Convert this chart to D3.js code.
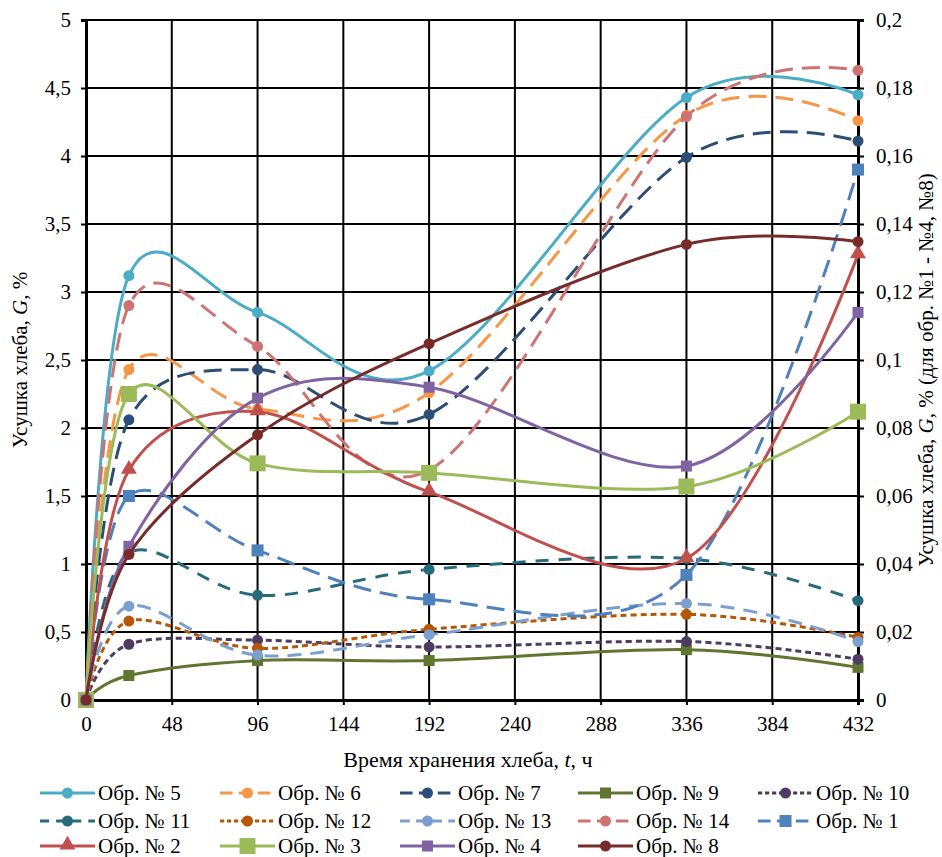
<!DOCTYPE html>
<html>
<head>
<meta charset="utf-8">
<script src="https://cdn.jsdelivr.net/npm/d3@7"></script>
<style>
  body { margin: 0; background: #fff; }
  svg text { font-family: "Times New Roman", "Liberation Serif", "DejaVu Serif", "Noto Serif", Times, serif; fill: #000; }
</style>
</head>
<body>
<div id="chart"></div>
<script>
// Data: storage time (h) and bread shrinkage per sample
var hours = [0, 24, 96, 192, 336, 432];
var xTicks = [0, 48, 96, 144, 192, 240, 288, 336, 384, 432];
var leftTicks = [0, 0.5, 1, 1.5, 2, 2.5, 3, 3.5, 4, 4.5, 5];
var rightTicks = [0, 0.02, 0.04, 0.06, 0.08, 0.1, 0.12, 0.14, 0.16, 0.18, 0.2];

// left axis samples (%)
var obr5 = [0, 3.12, 2.85, 2.42, 4.43, 4.45];
var obr6 = [0, 2.43, 2.14, 2.26, 4.30, 4.26];
var obr7 = [0, 2.06, 2.43, 2.10, 3.99, 4.11];
var obr9 = [0, 0.18, 0.29, 0.29, 0.37, 0.24];
var obr10 = [0, 0.41, 0.44, 0.39, 0.43, 0.30];
var obr11 = [0, 1.08, 0.77, 0.96, 1.04, 0.73];
var obr12 = [0, 0.58, 0.38, 0.52, 0.63, 0.46];
var obr13 = [0, 0.69, 0.33, 0.48, 0.71, 0.43];
var obr14 = [0, 2.90, 2.60, 1.69, 4.29, 4.63];
// right axis samples (%)
var obr1 = [0, 0.060, 0.044, 0.0296, 0.0368, 0.156];
var obr2 = [0, 0.0676, 0.0848, 0.0612, 0.0416, 0.131];
var obr3 = [0, 0.090, 0.0696, 0.0668, 0.0628, 0.0848];
var obr4 = [0, 0.0452, 0.0888, 0.092, 0.0688, 0.114];
var obr8 = [0, 0.0428, 0.078, 0.1048, 0.134, 0.1348];

var series = [
  {name: "Обр. № 5", values: obr5, axis: "L", color: "#4BACC6", dash: null, marker: "circle"},
  {name: "Обр. № 6", values: obr6, axis: "L", color: "#F79646", dash: "18,9", marker: "circle"},
  {name: "Обр. № 7", values: obr7, axis: "L", color: "#2C4D75", dash: "18,9", marker: "circle"},
  {name: "Обр. № 9", values: obr9, axis: "L", color: "#5F7530", dash: null, marker: "square", size: 11},
  {name: "Обр. № 10", values: obr10, axis: "L", color: "#4D3B62", dash: "6,4", marker: "circle"},
  {name: "Обр. № 11", values: obr11, axis: "L", color: "#276A7C", dash: "13,10", marker: "circle"},
  {name: "Обр. № 12", values: obr12, axis: "L", color: "#B65708", dash: "6,4", marker: "circle"},
  {name: "Обр. № 13", values: obr13, axis: "L", color: "#7BA0CD", dash: "14,9", marker: "circle"},
  {name: "Обр. № 14", values: obr14, axis: "L", color: "#CD7371", dash: "18,9", marker: "circle"},
  {name: "Обр. № 1", values: obr1, axis: "R", color: "#4F81BD", dash: "18,9", marker: "square", size: 12},
  {name: "Обр. № 2", values: obr2, axis: "R", color: "#C0504D", dash: null, marker: "triangle"},
  {name: "Обр. № 3", values: obr3, axis: "R", color: "#9BBB59", dash: null, marker: "square", size: 16},
  {name: "Обр. № 4", values: obr4, axis: "R", color: "#8064A2", dash: null, marker: "square", size: 11},
  {name: "Обр. № 8", values: obr8, axis: "R", color: "#772C2A", dash: null, marker: "circle"}
];

var svgWidth = 942, svgHeight = 857;
var margin = {top: 20, right: 84, bottom: 157, left: 86};
var width = svgWidth - margin.left - margin.right;
var height = svgHeight - margin.top - margin.bottom;

var svg = d3.select("#chart").append("svg")
  .attr("width", svgWidth)
  .attr("height", svgHeight);

var chartGroup = svg.append("g")
  .attr("transform", `translate(${margin.left}, ${margin.top})`);

var xScale = d3.scaleLinear().domain([0, 432]).range([0, width]);
var yLeft = d3.scaleLinear().domain([0, 5]).range([height, 0]);
var yRight = d3.scaleLinear().domain([0, 0.2]).range([height, 0]);

var fmt = function(d) { return String(d).replace(".", ","); };

// grid
chartGroup.append("g").selectAll("line")
  .data(leftTicks.slice(1))
  .enter().append("line")
  .attr("x1", 0).attr("x2", width)
  .attr("y1", d => yLeft(d)).attr("y2", d => yLeft(d))
  .attr("stroke", "#000").attr("stroke-width", 2);

chartGroup.append("g").selectAll("line")
  .data(xTicks.slice(1))
  .enter().append("line")
  .attr("x1", d => xScale(d)).attr("x2", d => xScale(d))
  .attr("y1", 0).attr("y2", height)
  .attr("stroke", "#000").attr("stroke-width", 2);

// axes
var bottomAxis = d3.axisBottom(xScale).tickValues(xTicks).tickSize(5).tickPadding(8);
var leftAxis = d3.axisLeft(yLeft).tickValues(leftTicks).tickFormat(fmt).tickSize(5).tickPadding(10);
var rightAxis = d3.axisRight(yRight).tickValues(rightTicks).tickFormat(fmt).tickSize(6).tickPadding(12);

var gx = chartGroup.append("g").attr("transform", `translate(0, ${height})`).call(bottomAxis);
var gl = chartGroup.append("g").call(leftAxis);
var gr = chartGroup.append("g").attr("transform", `translate(${width}, 0)`).call(rightAxis);

[gx, gl, gr].forEach(function(g) {
  g.attr("font-family", null).attr("font-size", 21);
  g.selectAll("path").attr("stroke", "#000").attr("stroke-width", 3);
  g.selectAll("line").attr("stroke", "#000").attr("stroke-width", 2);
  g.selectAll("text").attr("fill", "#000");
});
gx.selectAll("text").attr("dy", "0.85em");

// axis titles
chartGroup.append("text")
  .attr("x", width / 2 - 4).attr("y", height + 67)
  .attr("text-anchor", "middle")
  .style("font-size", "22px")
  .html("Время хранения хлеба, <tspan font-style='italic'>t</tspan>, ч");

svg.append("text")
  .attr("transform", `translate(27, ${margin.top + height / 2}) rotate(-90)`)
  .attr("text-anchor", "middle")
  .style("font-size", "21px")
  .html("Усушка хлеба, <tspan font-style='italic'>G</tspan>, %");

svg.append("text")
  .attr("transform", `translate(933, ${margin.top + height / 2 + 10}) rotate(-90)`)
  .attr("text-anchor", "middle")
  .style("font-size", "21px")
  .html("Усушка хлеба, <tspan font-style='italic'>G</tspan>, % (для обр. №1 - №4, №8)");

// lines
var line = function(yS) {
  return d3.line()
    .x((d, i) => xScale(hours[i]))
    .y(d => yS(d))
    .curve(d3.curveCardinal.tension(0));
};

function drawMarker(g, s, x, y) {
  if (s.marker === "circle") {
    g.append("circle").attr("cx", x).attr("cy", y).attr("r", 5.5).attr("fill", s.color);
  } else if (s.marker === "square") {
    var z = s.size;
    g.append("rect").attr("x", x - z / 2).attr("y", y - z / 2)
      .attr("width", z).attr("height", z).attr("fill", s.color);
  } else {
    g.append("path")
      .attr("d", d3.symbol().type(d3.symbolTriangle).size(110)())
      .attr("transform", `translate(${x}, ${y - 1})`)
      .attr("fill", s.color);
  }
}

series.forEach(function(s) {
  var yS = s.axis === "L" ? yLeft : yRight;
  var g = chartGroup.append("g");
  g.append("path")
    .datum(s.values)
    .attr("d", line(yS))
    .attr("fill", "none")
    .attr("stroke", s.color)
    .attr("stroke-width", 3)
    .attr("stroke-dasharray", s.dash);
  s.values.forEach(function(v, i) {
    drawMarker(g, s, xScale(hours[i]), yS(v));
  });
});

// legend
var colX = [40, 220, 400, 578, 758];
var rowY = [793, 821, 846];
var legend = svg.append("g");
series.forEach(function(s, i) {
  var x = colX[i % 5], y = rowY[Math.floor(i / 5)];
  var g = legend.append("g");
  g.append("line")
    .attr("x1", x).attr("x2", x + 55)
    .attr("y1", y).attr("y2", y)
    .attr("stroke", s.color).attr("stroke-width", 3)
    .attr("stroke-dasharray", s.dash ? s.dash.split(",").map(d => d * 0.7).join(",") : null);
  drawMarker(g, s, x + 27.5, y);
  g.append("text")
    .attr("x", x + 58).attr("y", y)
    .attr("dy", "0.35em")
    .style("font-size", "21px")
    .text(s.name);
});
</script>
</body>
</html>
